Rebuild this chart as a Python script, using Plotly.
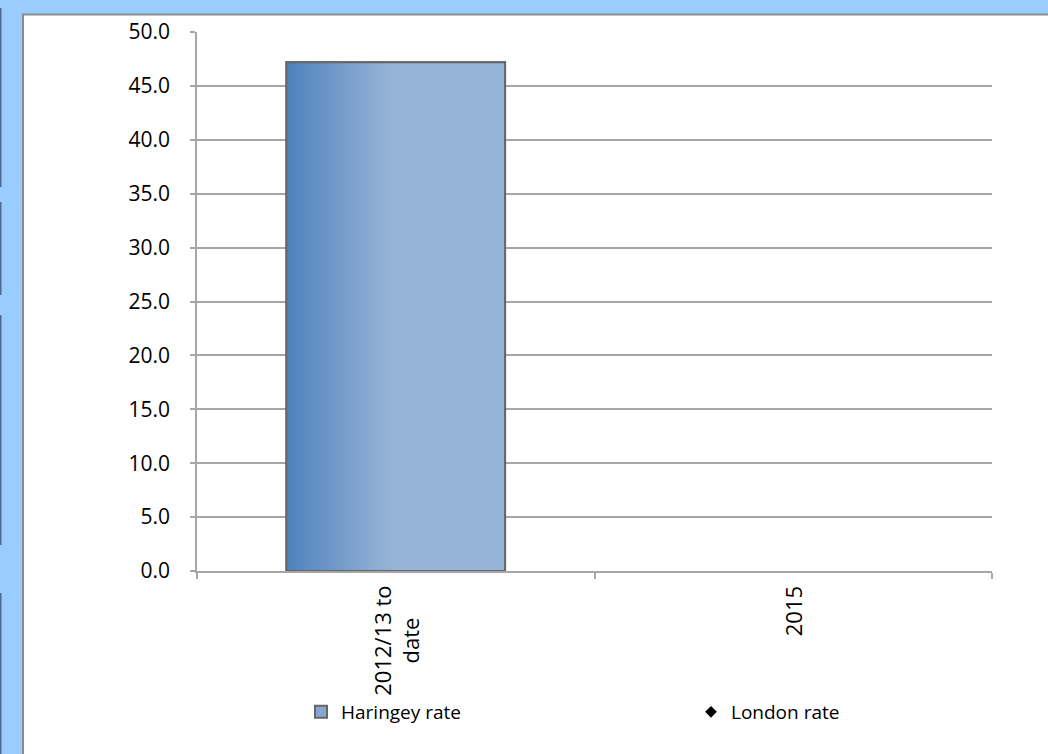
import plotly.graph_objects as go

# Chart data
categories = ["2012/13 to<br>date", "2015"]
haringey_rate = [47.2, None]
london_rate = [None, None]
y_ticks = [0, 5, 10, 15, 20, 25, 30, 35, 40, 45, 50]

W, H = 1048, 754
ML, MR, MT, MB = 197, 56, 32, 183
PW, PH = W - ML - MR, H - MT - MB

FONT = "Open Sans"
GRID = "#A6A6A6"
BAR_W = 0.55


def px_x(p):
    return (p - ML) / PW


def px_y(p):
    return (H - MB - p) / PH


xs = list(range(len(categories)))

fig = go.Figure()

# Haringey bars (solid base, carries the legend entry)
fig.add_trace(go.Bar(
    x=xs, y=haringey_rate, width=BAR_W, name="Haringey rate",
    marker=dict(color="#87A6D2", line=dict(color="#666666", width=2)),
    legend="legend",
))

# Horizontal shading laid over each bar
for xi, v in zip(xs, haringey_rate):
    if v is None:
        continue
    fig.add_trace(go.Scatter(
        x=[xi - BAR_W / 2, xi + BAR_W / 2, xi + BAR_W / 2, xi - BAR_W / 2, xi - BAR_W / 2],
        y=[0, 0, v, v, 0],
        mode="lines", fill="toself",
        fillgradient=dict(type="horizontal",
                          colorscale=[[0, "#4F81BD"], [0.47, "#95B3D7"], [1, "#95B3D7"]]),
        line=dict(color="#666666", width=2),
        showlegend=False, hoverinfo="skip",
    ))

# London rate markers
fig.add_trace(go.Scatter(
    x=xs, y=london_rate, mode="markers", name="London rate",
    marker=dict(symbol="diamond", color="black", size=9),
    legend="legend2",
))

# Category labels under the axis
for xi, lab in zip(xs, categories):
    fig.add_annotation(
        x=xi, xref="x", y=px_y(584), yref="paper",
        text=lab, textangle=-90, showarrow=False,
        xanchor="center", yanchor="top", align="center",
        font=dict(family=FONT, size=22, color="black"),
    )

shapes = [
    # white chart panel with grey edge
    dict(type="rect", xref="paper", yref="paper",
         x0=px_x(23), x1=px_x(1060), y0=px_y(770), y1=px_y(14.5),
         fillcolor="white", line=dict(color="#8C8C8C", width=2), layer="below"),
]
# dark strips along the far left edge
for a, b in [(8, 187), (202, 295), (315, 545), (593, 754)]:
    shapes.append(dict(type="rect", xref="paper", yref="paper",
                       x0=px_x(0), x1=px_x(1.5), y0=px_y(b), y1=px_y(a),
                       fillcolor="#4E6B8E", line=dict(width=0), layer="below"))

legend_style = dict(orientation="h", xanchor="left", yanchor="middle", y=px_y(712),
                    font=dict(family=FONT, size=19, color="black"),
                    bgcolor="rgba(0,0,0,0)", borderwidth=0)

fig.update_layout(
    width=W, height=H,
    margin=dict(l=ML, r=MR, t=MT, b=MB),
    paper_bgcolor="#99CCFF",
    plot_bgcolor="rgba(0,0,0,0)",
    shapes=shapes,
    font=dict(family=FONT, size=22, color="black"),
    showlegend=True,
    legend=dict(x=px_x(301), **legend_style),
    legend2=dict(x=px_x(691), **legend_style),
    xaxis=dict(range=[-0.5, len(categories) - 0.5], showticklabels=False,
               tickmode="array", tickvals=[-0.5, 0.5, 1.5],
               ticks="outside", ticklen=6, tickcolor=GRID, tickwidth=1.5,
               showline=True, linecolor=GRID, linewidth=1.5,
               showgrid=False, zeroline=False, fixedrange=True),
    yaxis=dict(range=[0, 50], tickmode="array", tickvals=y_ticks,
               tickformat=".1f", ticks="outside", ticklen=5, tickcolor=GRID, tickwidth=1.5,
               ticklabelstandoff=16, tickfont=dict(family=FONT, size=21),
               showline=True, linecolor=GRID, linewidth=1.5,
               showgrid=True, gridcolor=GRID, gridwidth=1.5,
               zeroline=False, fixedrange=True),
    bargap=0.45,
)

fig.write_html("out.html")
